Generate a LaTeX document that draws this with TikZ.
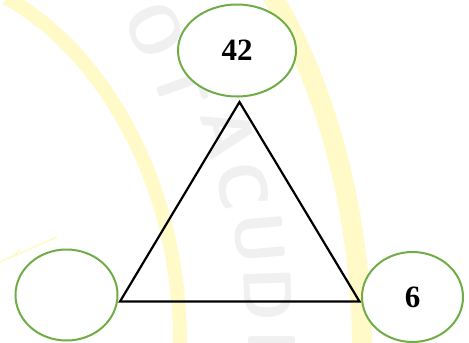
\documentclass[tikz,border=0pt]{standalone}
\usepackage{fontspec}
\setmainfont{Liberation Serif}
\definecolor{wmy}{HTML}{FFFAC8}
\definecolor{wmg}{HTML}{F0F0F0}
\definecolor{ringg}{HTML}{70AD47}
\tikzset{
  ring/.style={ellipse,draw=ringg,line width=2pt,fill=white,inner sep=0pt,font=\bfseries\fontsize{31}{33}\selectfont},
  wmband/.style={draw=wmy,line cap=butt},
  wmtext/.style={text=wmg,font=\bfseries\sffamily\fontsize{68}{70}\selectfont,inner sep=0pt},
  tri/.style={draw=black,line width=2.2pt,line join=miter}
}
\usetikzlibrary{shapes.geometric}
\begin{document}
\begin{tikzpicture}[x=1pt,y=-1pt]
\useasboundingbox (0,0) rectangle (469,343);
\fill[white] (0,0) rectangle (469,343);
\begin{scope}
\clip (0,0) rectangle (469,343);
% watermark
\draw[wmband,line width=14pt] (6,-2) .. controls (95,45) and (180,175) .. (180,343);
\draw[wmband,line width=20pt] (272,-5) .. controls (322,80) and (360,200) .. (362,343);
\draw[wmy,line width=1.5pt] (0,262) -- (57,237);
\draw[wmy,line width=1.5pt] (10,258) -- (20,250);
\node[wmtext,rotate=-65] (wo) at (155,30) {O};
\node[wmtext,rotate=-70] (wt) at (180,85) {T};
\node[wmtext,rotate=-76] (wa) at (228,133) {A};
\node[wmtext,rotate=-80] (wc) at (243,186) {C};
\node[wmtext,rotate=-85] (wu) at (260,238) {U};
\node[wmtext,rotate=-88] (wd) at (268,295) {D};
\clip (0,0) rectangle (469,343);
\node[wmtext,rotate=-90] (we) at (272,352) {E};
\end{scope}
% triangle
\coordinate (ta) at (239.5,102);
\coordinate (tb) at (120,301.5);
\coordinate (tc) at (359.5,301.5);
\draw[tri] (ta) -- (tb) -- (tc) -- cycle;
% rings
\node[ring,minimum width=118pt,minimum height=92pt] (top) at (237,50.5) {42};
\node[ring,minimum width=102pt,minimum height=91pt] (left) at (66.5,295) {};
\node[ring,minimum width=101pt,minimum height=90pt] (right) at (412.5,297) {6};
\end{tikzpicture}
\end{document}
